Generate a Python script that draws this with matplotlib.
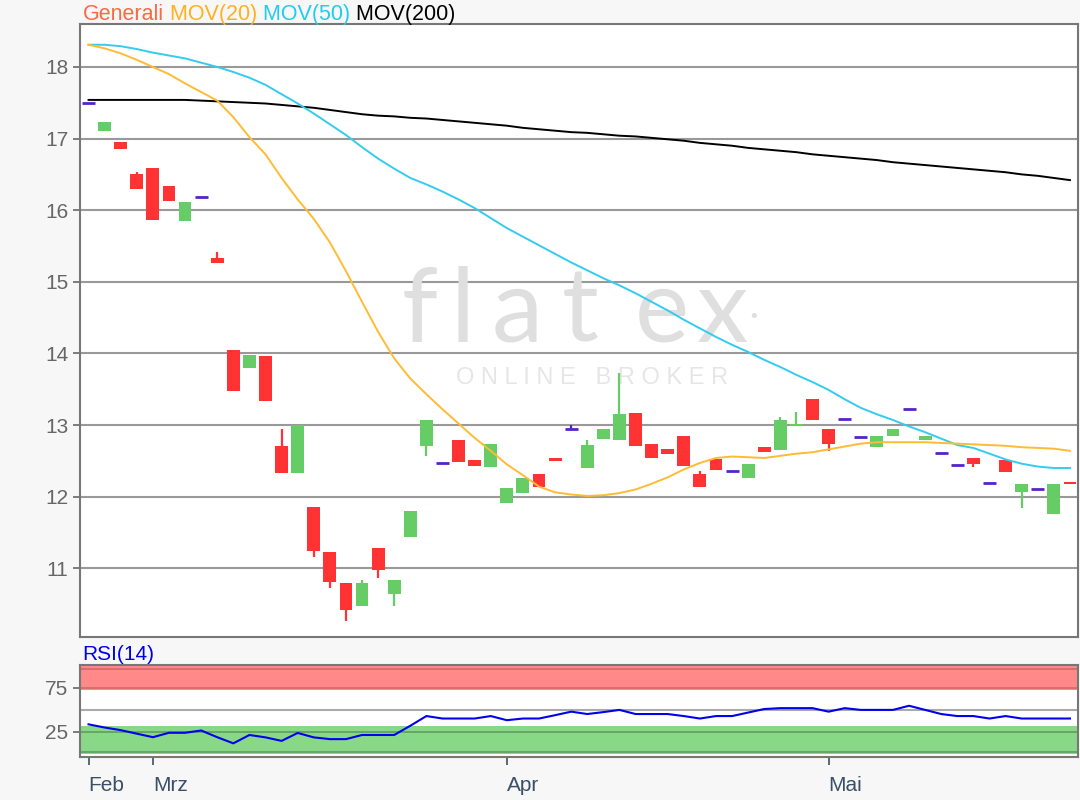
import matplotlib
matplotlib.use("Agg")
import matplotlib.pyplot as plt
import numpy as np

plt.rcParams['font.family'] = ['Liberation Sans', 'DejaVu Sans']

# daily candles, index 0 = first trading day shown
opens = [17.50, 17.11, 16.95, 16.50, 16.59, 16.34, 15.85, 16.19, 15.33, 14.05,
         13.80, 13.97, 12.71, 12.33, 11.85, 11.22, 10.80, 10.47, 11.28, 10.64,
         11.43, 12.71, 12.47, 12.79, 12.51, 12.41, 11.91, 12.05, 12.32, 12.54,
         12.94, 12.40, 12.81, 12.79, 13.17, 12.73, 12.67, 12.84, 12.31, 12.53,
         12.36, 12.26, 12.70, 12.65, 12.99, 13.37, 12.95, 13.08, 12.83, 12.69,
         12.85, 13.22, 12.79, 12.61, 12.44, 12.54, 12.19, 12.51, 12.07, 12.11,
         11.76, 12.20]
closes = [17.50, 17.23, 16.85, 16.29, 15.87, 16.13, 16.12, 16.19, 15.26, 13.47,
          13.98, 13.33, 12.33, 13.00, 11.24, 10.81, 10.42, 10.80, 10.98, 10.83,
          11.80, 13.07, 12.47, 12.49, 12.43, 12.73, 12.12, 12.26, 12.13, 12.50,
          12.94, 12.72, 12.95, 13.15, 12.71, 12.54, 12.59, 12.43, 12.14, 12.37,
          12.36, 12.45, 12.62, 13.07, 13.01, 13.07, 12.74, 13.08, 12.83, 12.84,
          12.95, 13.22, 12.84, 12.61, 12.44, 12.45, 12.19, 12.35, 12.18, 12.11,
          12.18, 12.18]
# only the candles with a visible wick
highs = {3: 16.54, 8: 15.42, 12: 12.94, 17: 10.83, 30: 13.00, 31: 12.79,
         33: 13.73, 38: 12.36, 43: 13.11, 44: 13.18}
lows = {14: 11.16, 15: 10.73, 16: 10.27, 18: 10.86, 19: 10.47, 21: 12.57,
        46: 12.64, 55: 12.42, 58: 11.84}

mov20 = [18.31, 18.26, 18.19, 18.10, 18.00, 17.90, 17.77, 17.65, 17.53, 17.30,
         17.02, 16.78, 16.45, 16.15, 15.88, 15.55, 15.15, 14.72, 14.30, 13.93,
         13.65, 13.43, 13.22, 13.02, 12.82, 12.64, 12.45, 12.30, 12.14, 12.06,
         12.03, 12.01, 12.02, 12.05, 12.10, 12.18, 12.27, 12.38, 12.47, 12.54,
         12.56, 12.55, 12.54, 12.57, 12.60, 12.62, 12.66, 12.70, 12.74, 12.76,
         12.76, 12.76, 12.76, 12.75, 12.74, 12.73, 12.72, 12.71, 12.69, 12.68,
         12.67, 12.64]
mov50 = [18.31, 18.31, 18.29, 18.25, 18.20, 18.16, 18.12, 18.06, 18.00, 17.93,
         17.85, 17.75, 17.62, 17.49, 17.35, 17.20, 17.05, 16.88, 16.72, 16.58,
         16.45, 16.36, 16.26, 16.15, 16.03, 15.89, 15.75, 15.63, 15.51, 15.39,
         15.27, 15.16, 15.05, 14.95, 14.84, 14.72, 14.60, 14.47, 14.35, 14.23,
         14.12, 14.02, 13.91, 13.81, 13.70, 13.60, 13.49, 13.36, 13.24, 13.15,
         13.07, 12.98, 12.90, 12.81, 12.72, 12.68, 12.60, 12.52, 12.46, 12.42,
         12.40, 12.40]
mov200 = [17.54, 17.54, 17.54, 17.54, 17.54, 17.54, 17.54, 17.53, 17.52, 17.51,
          17.50, 17.49, 17.47, 17.45, 17.43, 17.40, 17.37, 17.34, 17.32, 17.31,
          17.29, 17.28, 17.26, 17.24, 17.22, 17.20, 17.18, 17.15, 17.13, 17.11,
          17.09, 17.08, 17.06, 17.04, 17.03, 17.01, 16.99, 16.97, 16.94, 16.92,
          16.90, 16.87, 16.85, 16.83, 16.81, 16.78, 16.76, 16.74, 16.72, 16.70,
          16.67, 16.65, 16.63, 16.61, 16.59, 16.57, 16.55, 16.53, 16.50, 16.48,
          16.45, 16.42]
rsi = [33.6, 30.0, 27.0, 23.0, 19.0, 24.0, 24.0, 26.6, 19.0, 12.0,
       21.5, 18.8, 14.8, 23.8, 18.8, 16.8, 16.8, 21.5, 21.5, 21.5,
       32.0, 43.0, 40.2, 40.2, 40.2, 43.0, 38.3, 40.2, 40.2, 44.0,
       48.0, 45.3, 47.5, 50.0, 45.3, 45.3, 45.3, 43.0, 40.2, 43.0,
       43.0, 47.0, 51.0, 52.0, 52.0, 52.0, 48.0, 52.0, 50.0, 50.0,
       50.0, 54.7, 50.0, 45.3, 43.0, 43.0, 40.2, 43.0, 40.2, 40.2,
       40.2, 40.2]

month_labels = ['Feb', 'Mrz', 'Apr', 'Mai']
month_pos = [0, 4, 26, 46]
price_ticks = [11, 12, 13, 14, 15, 16, 17, 18]
rsi_ticks = [25, 75]

FS = 15

fig = plt.figure(figsize=(10.8, 8), dpi=100, facecolor='#f7f7f7')
ax = fig.add_axes([80/1080, 1-637/800, 998/1080, 613/800])
ax2 = fig.add_axes([80/1080, 1-757/800, 998/1080, 92/800])

green, red, doji = '#66cc66', '#ff3333', '#5522cc'
x = np.arange(len(opens))
for i in x:
    o, c = opens[i], closes[i]
    hi = highs.get(i, max(o, c))
    lo = lows.get(i, min(o, c))
    col = green if c > o else (red if c < o else doji)
    if hi > max(o, c) or lo < min(o, c):
        ax.vlines(i, lo, hi, color=col, lw=1.6, zorder=3)
    if col == doji:
        ax.hlines(o, i - 0.4, i + 0.4, color=doji, lw=2, zorder=4)
    else:
        ax.bar(i, abs(c - o), bottom=min(o, c), width=0.8, color=col,
               linewidth=0, zorder=4)

ax.plot(x, mov200, color='black', lw=1.4, zorder=5)
ax.plot(x, mov50, color='#33ccee', lw=1.4, zorder=5)
ax.plot(x, mov20, color='#ffbb33', lw=1.4, zorder=5)

ax.set_xlim(-0.53, 61.5)
ax.set_ylim(10.04, 18.6)
ax.set_yticks(price_ticks)
ax.set_xticks([])
ax.set_facecolor('white')
ax.grid(axis='y', color='#999999', lw=1.5, zorder=1)
ax.tick_params(axis='y', colors='#666666', labelsize=FS, length=5, width=1.2)
for s in ax.spines.values():
    s.set_color('#777777')
    s.set_linewidth(1.5)

# flatex watermark
for ch, px in zip('flatex', [420, 463, 517, 580, 662, 722]):
    ax.text((px - 80) / 998, (637 - 342) / 613, ch, transform=ax.transAxes,
            ha='center', va='baseline', fontsize=74, family='Lato',
            color='#dfdfdf', zorder=2)
ax.text((754 - 80) / 998, (637 - 318) / 613, '\u2022', transform=ax.transAxes,
        ha='center', va='center', fontsize=14, color='#dfdfdf', zorder=2)
ax.text((592 - 80) / 998, (637 - 378) / 613, 'O N L I N E   B R O K E R',
        transform=ax.transAxes, ha='center', va='center', fontsize=17,
        color='#e6e6e6', zorder=2)

# coloured legend line above the chart
texts = [('Generali', '#ff6644'), (' MOV(20)', '#ffb020'),
         (' MOV(50)', '#22ccee'), (' MOV(200)', 'black')]
prev = fig.text(83/1080, 1-20/800, texts[0][0], color=texts[0][1],
                fontsize=15.5, va='baseline')
for lab, col in texts[1:]:
    prev = ax.annotate(lab, xy=(1, 0), xycoords=prev, color=col, fontsize=15.5,
                       va='bottom', ha='left', annotation_clip=False)

# RSI panel
ax2.axhspan(73, 100, color='#ff8888', zorder=1, lw=0)
ax2.axhspan(0, 32, color='#88d888', zorder=1, lw=0)
for yv in (97, 75):
    ax2.axhline(yv, color='#d06a6a', lw=1.2, zorder=2)
for yv in (25, 2):
    ax2.axhline(yv, color='#5f9f5f', lw=1.2, zorder=2)
ax2.axhline(50, color='#aaaaaa', lw=1.5, zorder=2)
ax2.plot(x, rsi, color='#0000ee', lw=1.5, zorder=3)
ax2.set_xlim(-0.53, 61.5)
ax2.set_ylim(-3.5, 101)
ax2.set_yticks(rsi_ticks)
ax2.set_xticks(month_pos)
ax2.set_xticklabels(month_labels, ha='left')
ax2.set_facecolor('white')
ax2.tick_params(axis='y', colors='#666666', labelsize=FS, length=5, width=1.2)
ax2.tick_params(axis='x', colors='#3a5068', labelsize=FS, length=6, width=1.2,
                pad=8)
for s in ax2.spines.values():
    s.set_color('#777777')
    s.set_linewidth(1.5)
fig.text(82/1080, 1-654/800, 'RSI(14)', color='#0000ee', fontsize=FS,
         va='center')

fig.savefig('out.png', dpi=100, facecolor=fig.get_facecolor())
